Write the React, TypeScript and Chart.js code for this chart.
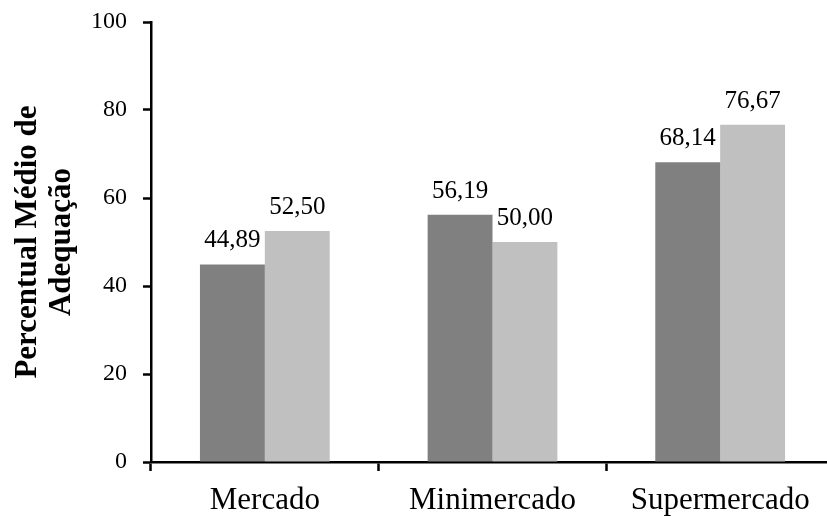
import React, { useEffect, useRef } from "react";
import { Chart, registerables } from "chart.js";

Chart.register(...registerables);

const categories = ["Mercado", "Minimercado", "Supermercado"];
const seriesA = [44.89, 56.19, 68.14];
const seriesB = [52.5, 50.0, 76.67];
const yTicks = [0, 20, 40, 60, 80, 100];
const yTitle = ["Percentual Médio de", "Adequação"];

const FONT = "'Liberation Serif', 'Times New Roman', serif";

const labelPlugin = {
  id: "valueLabels",
  afterDatasetsDraw(chart: any) {
    const ctx = chart.ctx;
    ctx.save();
    ctx.font = `25px ${FONT}`;
    ctx.fillStyle = "#000";
    ctx.textAlign = "center";
    ctx.textBaseline = "alphabetic";
    chart.data.datasets.forEach((ds: any, di: number) => {
      const meta = chart.getDatasetMeta(di);
      meta.data.forEach((bar: any, i: number) => {
        const v = ds.data[i] as number;
        ctx.fillText(v.toFixed(2).replace(".", ","), bar.x, bar.y - 17);
      });
    });
    ctx.restore();
  },
};

export default function App() {
  const ref = useRef<HTMLCanvasElement | null>(null);
  useEffect(() => {
    document.body.style.margin = "0";
    document.body.style.overflow = "hidden";
    const chart = new Chart(ref.current!, {
      type: "bar",
      data: {
        labels: categories,
        datasets: [
          { data: seriesA, backgroundColor: "#808080", categoryPercentage: 0.57, barPercentage: 1 },
          { data: seriesB, backgroundColor: "#C0C0C0", categoryPercentage: 0.57, barPercentage: 1 },
        ],
      },
      options: {
        animation: false,
        responsive: false,
        devicePixelRatio: 1,
        layout: { padding: { top: 22, left: 0, right: 0, bottom: 0 } },
        plugins: { legend: { display: false }, tooltip: { enabled: false } },
        scales: {
          x: {
            offset: true,
            grid: {
              offset: true,
              drawOnChartArea: false,
              drawTicks: true,
              tickLength: 9,
              tickWidth: 2.5,
              tickColor: "#000",
            },
            border: { color: "#000", width: 2.5 },
            ticks: { color: "#000", font: { family: FONT, size: 31 }, padding: 11 },
            afterFit(scale: any) {
              scale.height = 54;
              scale.paddingLeft = 0;
              scale.paddingRight = 0;
            },
          },
          y: {
            min: 0,
            max: 100,
            afterBuildTicks(scale: any) {
              scale.ticks = yTicks.map((v) => ({ value: v }));
            },
            grid: {
              drawOnChartArea: false,
              drawTicks: true,
              tickLength: 8,
              tickWidth: 2.5,
              tickColor: "#000",
            },
            border: { color: "#000", width: 2.5 },
            ticks: { color: "#000", font: { family: FONT, size: 24 }, padding: 16 },
            title: {
              display: true,
              text: yTitle,
              color: "#000",
              font: { family: FONT, size: 31, weight: "bold", lineHeight: 1.1 },
              padding: { top: 11, bottom: 0 },
            },
            afterFit(scale: any) {
              scale.width = 151;
              scale.paddingTop = 0;
              scale.paddingBottom = 0;
            },
          },
        },
      },
      plugins: [labelPlugin],
    });
    return () => chart.destroy();
  }, []);
  return (
    <div style={{ position: "absolute", left: 0, top: 0, width: 834, height: 516 }}>
      <canvas ref={ref} width={834} height={516} style={{ display: "block" }} />
    </div>
  );
}
